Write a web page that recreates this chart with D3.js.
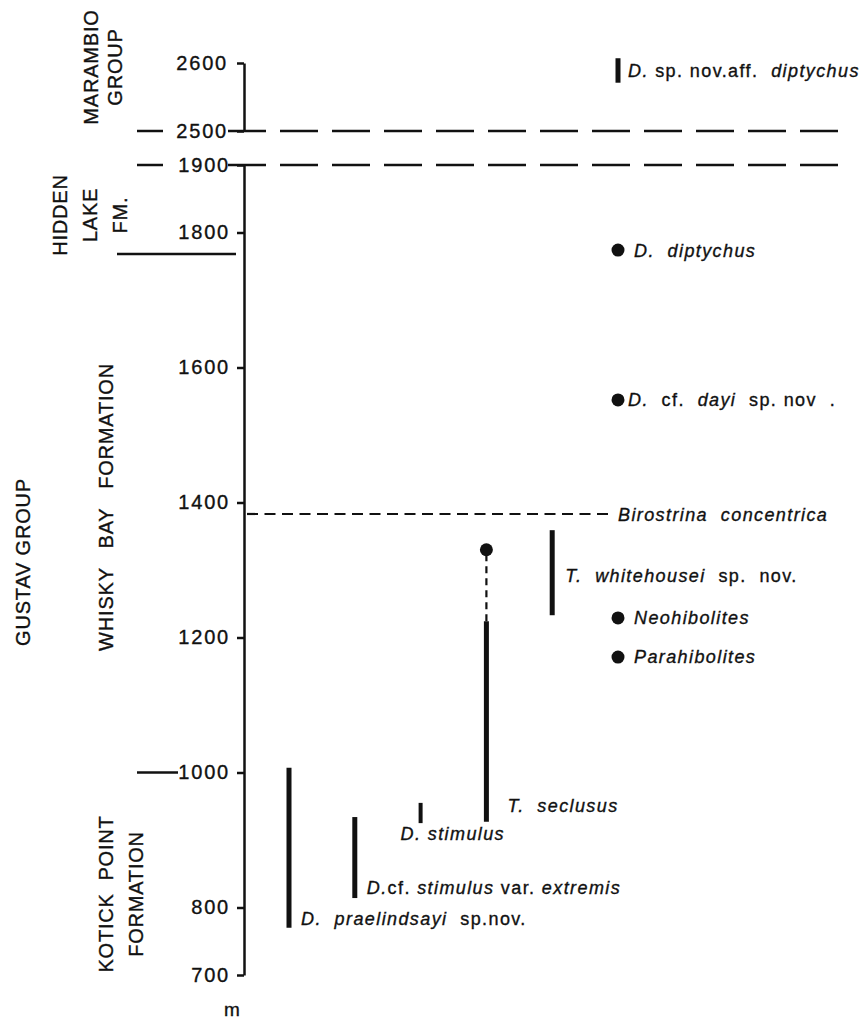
<!DOCTYPE html>
<html>
<head>
<meta charset="utf-8">
<script src="https://cdnjs.cloudflare.com/ajax/libs/d3/7.8.5/d3.min.js"></script>
<style>
  body { margin: 0; background: #fff; }
  svg { display: block; font-family: "Liberation Sans", Arial, Helvetica, sans-serif; }
  text { white-space: pre; fill: #111; stroke: #111; stroke-width: 0.35px; }
</style>
</head>
<body>
<svg id="chart" width="864" height="1021"></svg>
<script>
// section heights in metres
const upperTicks = [2500, 2600];
const lowerTicks = [700, 800, 1000, 1200, 1400, 1600, 1800, 1900];
const breakLevels = [2500, 1900];          // the section is broken between these
const formationTops = [1768, 1000];        // solid boundary marks on the left

// one column per lineage, left to right
const columns = ["praelindsayi", "cf. stimulus", "stimulus", "seclusus", "whitehousei", "other"];

// ranges (vertical bars)
const rangeTaxa = ["D. sp. nov. aff. diptychus", "T. whitehousei", "T. seclusus", "D. stimulus", "D. cf. stimulus var. extremis", "D. praelindsayi"];
const rangeColumn = ["other", "whitehousei", "seclusus", "stimulus", "cf. stimulus", "praelindsayi"];
const rangeBase = [2571, 1233, 927, 925, 814, 770];
const rangeTop = [2607, 1359, 1224, 955, 934, 1007];

// single occurrences (dots)
const pointTaxa = ["D. diptychus", "D. cf. dayi", "Neohibolites", "Parahibolites", "T. seclusus (top)"];
const pointColumn = ["other", "other", "other", "other", "seclusus"];
const pointLevel = [1774, 1552, 1229, 1171, 1330];

// uncertain extension of T. seclusus up to its top occurrence
const seclususGap = [1224, 1330];

// Birostrina concentrica marker level
const birostrinaLevel = 1383;

const svg = d3.select("#chart");
const axisX = 244;

const yUp = d3.scaleLinear().domain([2500, 2600]).range([131, 63]);
const yLow = d3.scaleLinear().domain([700, 1900]).range([975, 165]);
const y = v => v >= 2500 ? yUp(v) : yLow(v);
const x = d3.scalePoint().domain(columns).range([289, 618]);

// ---- axes
function styleAxis(g) {
    g.attr("font-size", 20).attr("font-family", null);
    g.select(".domain").attr("stroke", "#111").attr("stroke-width", 2.5);
    g.selectAll(".tick line").attr("stroke", "#111").attr("stroke-width", 2.5);
    g.selectAll(".tick text").attr("fill", "#111").attr("letter-spacing", "1.8px");
}
svg.append("g")
    .attr("transform", `translate(${axisX},0)`)
    .call(d3.axisLeft(yUp).tickValues(upperTicks).tickSize(7).tickSizeOuter(0).tickPadding(9).tickFormat(d3.format("d")))
    .call(styleAxis);
svg.append("g")
    .attr("transform", `translate(${axisX},0)`)
    .call(d3.axisLeft(yLow).tickValues(lowerTicks).tickSize(7).tickSizeOuter(0).tickPadding(7).tickFormat(d3.format("d")))
    .call(styleAxis);

svg.append("text").attr("x", 232).attr("y", 1016).attr("text-anchor", "middle")
    .attr("font-size", 19).text("m");

// ---- breaks in section
breakLevels.forEach(v => {
    svg.append("line").attr("x1", axisX - 16).attr("x2", 848).attr("y1", y(v)).attr("y2", y(v))
        .attr("stroke", "#111").attr("stroke-width", 2.5).attr("stroke-dasharray", "38,14");
    svg.append("line").attr("x1", 137).attr("x2", 163).attr("y1", y(v)).attr("y2", y(v))
        .attr("stroke", "#111").attr("stroke-width", 2.5);
});

// formation boundaries
svg.append("line").attr("x1", 117).attr("x2", axisX - 8).attr("y1", y(formationTops[0])).attr("y2", y(formationTops[0]))
    .attr("stroke", "#111").attr("stroke-width", 2.5);
svg.append("line").attr("x1", 137).attr("x2", 178).attr("y1", y(formationTops[1])).attr("y2", y(formationTops[1]))
    .attr("stroke", "#111").attr("stroke-width", 2.5);

// ---- rotated unit names
function vlabel(lines, yc) {
    lines.forEach(([t, bx]) => {
        svg.append("text")
            .attr("transform", `translate(${bx},${yc}) rotate(-90)`)
            .attr("text-anchor", "middle").attr("font-size", 20).attr("letter-spacing", "0.8px")
            .text(t);
    });
}
vlabel([["MARAMBIO", 98], ["GROUP", 122]], 67);
vlabel([["HIDDEN", 67], ["LAKE", 97], ["FM.", 127]], 215);
vlabel([["GUSTAV GROUP", 30]], 562);
vlabel([["WHISKY   BAY   FORMATION", 113]], 507);
vlabel([["KOTICK  POINT", 113], ["FORMATION", 143]], 894);

// ---- Birostrina marker
svg.append("line").attr("x1", axisX + 3).attr("x2", 613)
    .attr("y1", y(birostrinaLevel)).attr("y2", y(birostrinaLevel))
    .attr("stroke", "#111").attr("stroke-width", 2.2).attr("stroke-dasharray", "11,6.5");

// ---- ranges and dots
svg.append("line").attr("x1", x("seclusus")).attr("x2", x("seclusus"))
    .attr("y1", y(seclususGap[0])).attr("y2", y(seclususGap[1]))
    .attr("stroke", "#111").attr("stroke-width", 2.2).attr("stroke-dasharray", "7,5");

svg.append("g").selectAll("line")
    .data(rangeTaxa.map((t, i) => ({ t, col: rangeColumn[i], lo: rangeBase[i], hi: rangeTop[i] })))
    .join("line")
    .attr("x1", d => x(d.col)).attr("x2", d => x(d.col))
    .attr("y1", d => y(d.lo)).attr("y2", d => y(d.hi))
    .attr("stroke", "#111").attr("stroke-width", d => d.t === "D. stimulus" ? 4 : 5);

svg.append("g").selectAll("circle")
    .data(pointTaxa.map((t, i) => ({ t, col: pointColumn[i], v: pointLevel[i] })))
    .join("circle")
    .attr("cx", d => x(d.col)).attr("cy", d => y(d.v)).attr("r", 6.5).attr("fill", "#111");

// ---- taxon names: [italic?, text] parts, anchored to a mark
const labels = [
    { v: rangeBase[0], col: "other", dx: 10, dy: -6, parts: [[1, "D."], [0, " sp. nov.aff.  "], [1, "diptychus"]] },
    { v: pointLevel[0], col: "other", dx: 16, dy: 7, parts: [[1, "D.  diptychus"]] },
    { v: pointLevel[1], col: "other", dx: 10, dy: 6, parts: [[1, "D."], [0, "  cf.  "], [1, "dayi"], [0, "  sp. nov  ."]] },
    { v: birostrinaLevel, col: null, x0: 618, dy: 7, parts: [[1, "Birostrina  concentrica"]] },
    { v: (rangeBase[1] + rangeTop[1]) / 2, col: "whitehousei", dx: 13, dy: 9, parts: [[1, "T.  whitehousei"], [0, "  sp.  nov."]] },
    { v: pointLevel[2], col: "other", dx: 16, dy: 6, parts: [[1, "Neohibolites"]] },
    { v: pointLevel[3], col: "other", dx: 16, dy: 6, parts: [[1, "Parahibolites"]] },
    { v: rangeBase[2], col: "seclusus", dx: 21, dy: -10, parts: [[1, "T.  seclusus"]] },
    { v: rangeBase[3], col: "stimulus", dx: -20, dy: 17, parts: [[1, "D. stimulus"]] },
    { v: rangeBase[4], col: "cf. stimulus", dx: 12, dy: -4, parts: [[1, "D."], [0, "cf. "], [1, "stimulus"], [0, " var. "], [1, "extremis"]] },
    { v: rangeBase[5], col: "praelindsayi", dx: 12, dy: -3, parts: [[1, "D.  praelindsayi"], [0, "  sp.nov."]] }
];

const lab = svg.append("g").selectAll("text")
    .data(labels)
    .join("text")
    .attr("x", d => d.col ? x(d.col) + d.dx : d.x0)
    .attr("y", d => y(d.v) + d.dy)
    .attr("font-size", 18).attr("letter-spacing", "1.4px");
lab.selectAll("tspan")
    .data(d => d.parts)
    .join("tspan")
    .attr("font-style", p => p[0] ? "italic" : "normal")
    .text(p => p[1]);
</script>
</body>
</html>
